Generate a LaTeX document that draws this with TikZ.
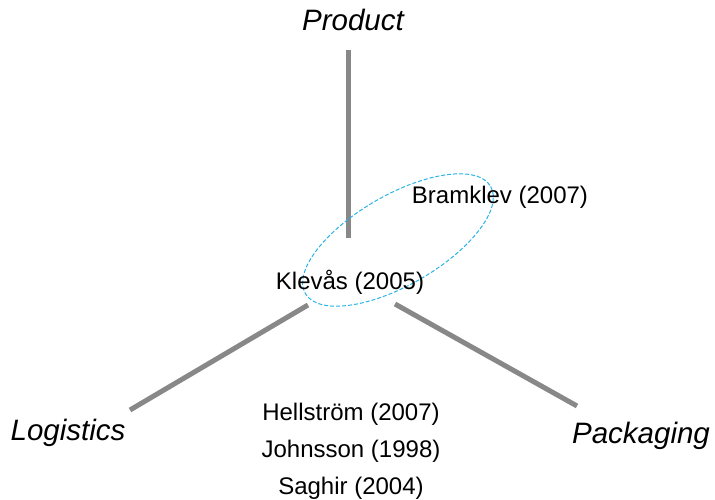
\documentclass[tikz,border=0pt]{standalone}
\usepackage{fontspec}
\setmainfont{Liberation Sans}
\definecolor{axisgray}{RGB}{136,136,136}
\definecolor{ellblue}{RGB}{40,180,230}
\begin{document}
\begin{tikzpicture}[x=1pt,y=-1pt,
  axisline/.style={draw=axisgray,line width=5pt},
  dim/.style={font=\itshape\fontsize{29.5}{32}\selectfont,anchor=base,inner sep=0pt},
  author/.style={font=\fontsize{24}{26}\selectfont,anchor=base,inner sep=0pt},
  group/.style={draw=ellblue,line width=1pt,dash pattern=on 4pt off 2pt}]
\useasboundingbox (0,0) rectangle (715,500);
\coordinate (pA) at (348,50);
\coordinate (pB) at (348,238);
\coordinate (lA) at (308,305);
\coordinate (lB) at (130,410);
\coordinate (kA) at (395,304);
\coordinate (kB) at (577,406);
\draw[axisline] (pA) -- (pB);
\draw[axisline] (lA) -- (lB);
\draw[axisline] (kA) -- (kB);
\draw[group] (398,240) ellipse [x radius=107, y radius=45, rotate=30];
\node[dim] (product) at (353,31) {Product};
\node[dim] (logistics) at (68,440) {Logistics};
\node[dim] (packaging) at (641,443) {Packaging};
\node[author] (bramklev) at (500,203) {Bramklev (2007)};
\node[author] (klevas) at (350,289) {Klevås (2005)};
\node[author] (hellstrom) at (351,420) {Hellström (2007)};
\node[author] (johnsson) at (351,457) {Johnsson (1998)};
\node[author] (saghir) at (351,494) {Saghir (2004)};
\end{tikzpicture}
\end{document}
